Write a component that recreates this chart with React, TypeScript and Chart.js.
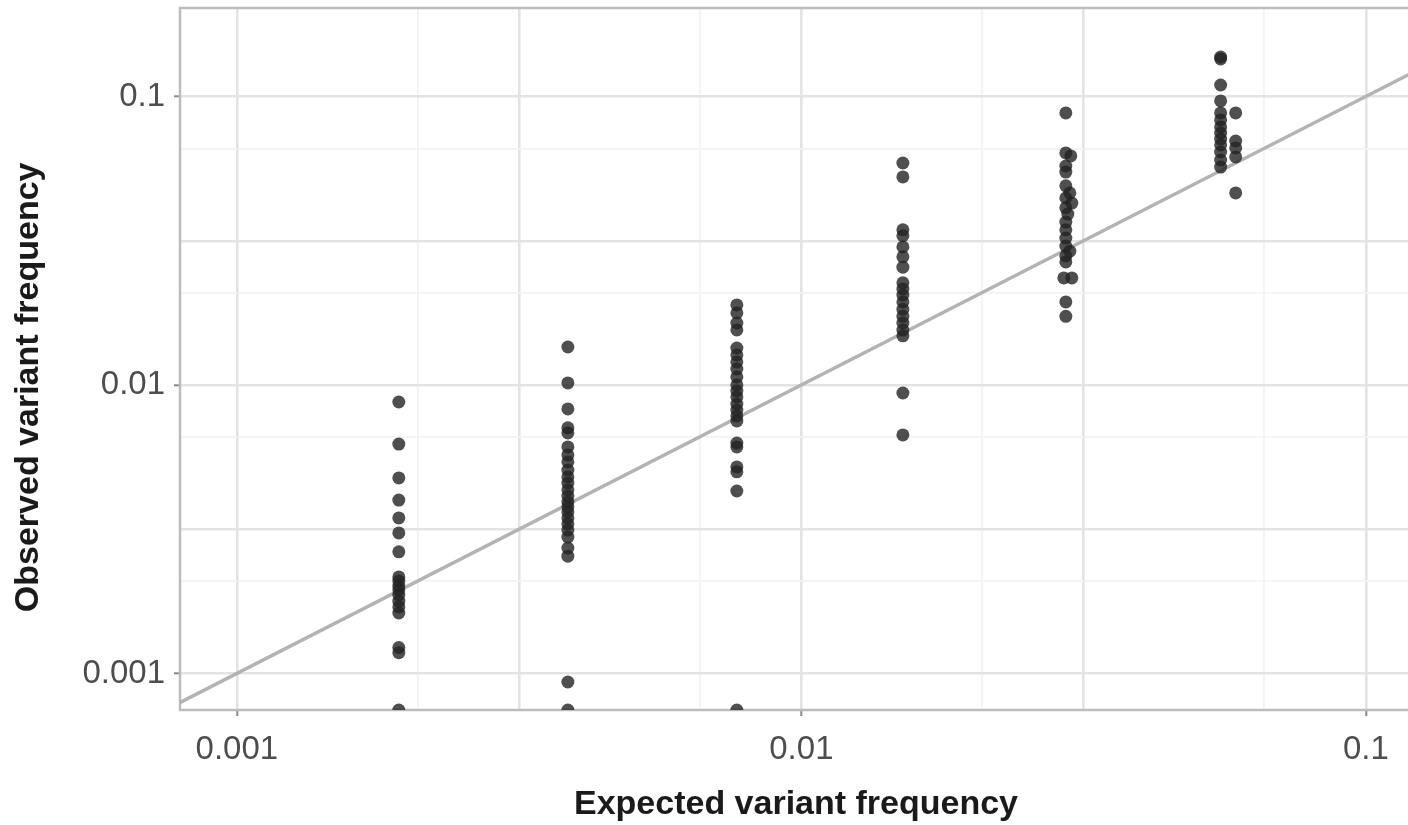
import { useEffect, useRef } from "react";
import { Chart, registerables } from "chart.js";

Chart.register(...registerables);

// ---- Axis limits (log10 scales) ----
const X_MIN = 0.000793;
const X_MAX = 0.1207;
const Y_MIN = 0.000747;
const Y_MAX = 0.2026;

// ---- Grid breaks and tick labels ----
const majorBreaks = [0.001, 0.00316, 0.01, 0.0316, 0.1];
const minorBreaks = [0.00209, 0.0066, 0.0209, 0.066];
const labeledBreaks = [0.001, 0.01, 0.1];
const tickLabels = ["0.001", "0.01", "0.1"];

// ---- Data: expected vs observed variant frequency (0 = below axis, squished) ----
const col1Expected = 0.001936;
const col1Observed = [0.00873, 0.00624, 0.00476, 0.00399, 0.00346, 0.00307, 0.00264, 0.00216, 0.00209, 0.00201, 0.00195, 0.00187, 0.0017, 0.00162, 0.00178, 0.00123, 0.00118, 0];

const col2Expected = 0.003858;
const col2Observed = [0.01354, 0.01016, 0.00826, 0.0071, 0.00682, 0.0061, 0.00572, 0.00541, 0.00507, 0.0048, 0.00457, 0.00433, 0.00412, 0.00393, 0.00378, 0.00363, 0.00346, 0.0033, 0.00314, 0.00297, 0.00272, 0.00255, 0.000934, 0];

const col3Expected = 0.007686;
const col3Observed = [0.01894, 0.01777, 0.0164, 0.01551, 0.01343, 0.01271, 0.01202, 0.01136, 0.01066, 0.01, 0.00953, 0.00909, 0.00859, 0.00819, 0.00781, 0.0075, 0.00629, 0.0061, 0.0052, 0.005, 0.00429, 0];

const col4Expected = 0.01513;
const col4Observed = [0.0588, 0.0526, 0.0345, 0.0329, 0.0301, 0.0278, 0.0256, 0.0226, 0.0215, 0.0205, 0.0194, 0.0183, 0.0173, 0.0164, 0.0155, 0.0148, 0.00938, 0.00671];

const col5Expected = [0.02941, 0.02941, 0.03001, 0.02941, 0.02941, 0.02941, 0.02989, 0.02941, 0.03014, 0.02941, 0.02965, 0.02941, 0.02941, 0.02941, 0.02941, 0.02989, 0.02941, 0.02941, 0.02917, 0.03014, 0.02941, 0.02941];
const col5Observed = [0.0877, 0.0637, 0.0622, 0.0574, 0.0547, 0.049, 0.0463, 0.0445, 0.0427, 0.0411, 0.0391, 0.0367, 0.0345, 0.0323, 0.0303, 0.0291, 0.028, 0.0267, 0.0235, 0.0235, 0.0194, 0.0173];

const col6aExpected = 0.0553;
const col6aObserved = [0.137, 0.1349, 0.1096, 0.0965, 0.0877, 0.0829, 0.0784, 0.0747, 0.0712, 0.0679, 0.0642, 0.0602, 0.0569];

const col6bExpected = 0.0588;
const col6bObserved = [0.0877, 0.0701, 0.0663, 0.0617, 0.0463];

// identity reference line y = x
const identityLine = [0.0005, 0.3];

const squish = (v: number) => (v <= 0 ? Y_MIN : v);

function buildPoints() {
  const pts: { x: number; y: number }[] = [];
  const add = (xs: number | number[], ys: number[]) => {
    ys.forEach((y, i) => pts.push({ x: Array.isArray(xs) ? xs[i] : xs, y: squish(y) }));
  };
  add(col1Expected, col1Observed);
  add(col2Expected, col2Observed);
  add(col3Expected, col3Observed);
  add(col4Expected, col4Observed);
  add(col5Expected, col5Observed);
  add(col6aExpected, col6aObserved);
  add(col6bExpected, col6bObserved);
  return pts;
}

const FONT = "'Liberation Sans', Arial, Helvetica, sans-serif";
const BORDER_COLOR = "#bcbcbc";

const isIn = (arr: number[], v: number) => arr.some((a) => Math.abs(a - v) / a < 1e-6);

const gridColor = (ctx: any) => {
  const v = ctx.tick ? ctx.tick.value : 0;
  return isIn(majorBreaks, v) ? "#e3e3e3" : "#f3f3f3";
};
const gridWidth = (ctx: any) => {
  const v = ctx.tick ? ctx.tick.value : 0;
  return isIn(majorBreaks, v) ? 2.6 : 1.8;
};
const tickColor = (ctx: any) => {
  const v = ctx.tick ? ctx.tick.value : 0;
  return isIn(labeledBreaks, v) ? "#8a8a8a" : "rgba(0,0,0,0)";
};
const tickCallback = (value: any) => {
  const idx = labeledBreaks.findIndex((a) => Math.abs(a - Number(value)) / a < 1e-6);
  return idx >= 0 ? tickLabels[idx] : "";
};
const setTicks = (scale: any) => {
  const all = [...majorBreaks, ...minorBreaks].sort((a, b) => a - b);
  scale.ticks = all.filter((v) => v >= scale.min && v <= scale.max).map((v) => ({ value: v }));
};

const panelBorder = {
  id: "panelBorder",
  beforeDatasetsDraw(chart: any) {
    const { ctx, chartArea } = chart;
    ctx.save();
    ctx.strokeStyle = BORDER_COLOR;
    ctx.lineWidth = 2.5;
    ctx.strokeRect(chartArea.left, chartArea.top, chartArea.right - chartArea.left, chartArea.bottom - chartArea.top);
    ctx.restore();
  },
};

export default function App() {
  const ref = useRef<HTMLCanvasElement | null>(null);

  useEffect(() => {
    if (!ref.current) return;
    const chart = new Chart(ref.current, {
      type: "scatter",
      data: {
        datasets: [
          {
            type: "scatter",
            data: buildPoints(),
            pointRadius: 6.5,
            pointHoverRadius: 6.5,
            backgroundColor: "rgba(35,35,35,0.8)",
            borderWidth: 0,
            clip: 0,
          } as any,
          {
            type: "line",
            data: identityLine.map((v) => ({ x: v, y: v })),
            borderColor: "#b3b3b3",
            borderWidth: 3.5,
            pointRadius: 0,
            fill: false,
            clip: 0,
          } as any,
        ],
      },
      options: {
        responsive: false,
        animation: false,
        events: [],
        layout: { padding: { top: 8, right: 8, left: 0, bottom: 0 } },
        plugins: { legend: { display: false }, tooltip: { enabled: false } },
        scales: {
          x: {
            type: "logarithmic",
            position: "bottom",
            min: X_MIN,
            max: X_MAX,
            bounds: "data",
            afterBuildTicks: setTicks,
            afterFit: (s: any) => {
              s.height = 115;
              s.paddingLeft = 0;
              s.paddingRight = 0;
            },
            border: { display: false },
            grid: {
              color: gridColor,
              lineWidth: gridWidth,
              drawTicks: true,
              tickLength: 6,
              tickWidth: 2,
              tickColor: tickColor,
            },
            ticks: {
              autoSkip: false,
              maxRotation: 0,
              padding: 14,
              color: "#4d4d4d",
              font: { family: FONT, size: 33 },
              callback: tickCallback,
            },
            title: {
              display: true,
              text: "Expected variant frequency",
              color: "#1a1a1a",
              font: { family: FONT, size: 34, weight: "bold" },
              padding: { top: 0, bottom: 0 },
            },
          } as any,
          y: {
            type: "logarithmic",
            position: "left",
            min: Y_MIN,
            max: Y_MAX,
            bounds: "data",
            afterBuildTicks: setTicks,
            afterFit: (s: any) => {
              s.width = 180;
              s.paddingTop = 0;
              s.paddingBottom = 0;
            },
            border: { display: false },
            grid: {
              color: gridColor,
              lineWidth: gridWidth,
              drawTicks: true,
              tickLength: 6,
              tickWidth: 2,
              tickColor: tickColor,
            },
            ticks: {
              autoSkip: false,
              padding: 9,
              color: "#4d4d4d",
              font: { family: FONT, size: 33 },
              callback: tickCallback,
            },
            title: {
              display: true,
              text: "Observed variant frequency      ",
              color: "#1a1a1a",
              font: { family: FONT, size: 34, weight: "bold" },
              padding: { top: 8, bottom: 0 },
            },
          } as any,
        },
      },
      plugins: [panelBorder],
    });
    return () => chart.destroy();
  }, []);

  return (
    <div
      style={{
        position: "fixed",
        left: 0,
        top: 0,
        width: 1408,
        height: 825,
        overflow: "hidden",
        background: "#ffffff",
      }}
    >
      <canvas ref={ref} width={1420} height={825} style={{ display: "block" }} />
    </div>
  );
}
